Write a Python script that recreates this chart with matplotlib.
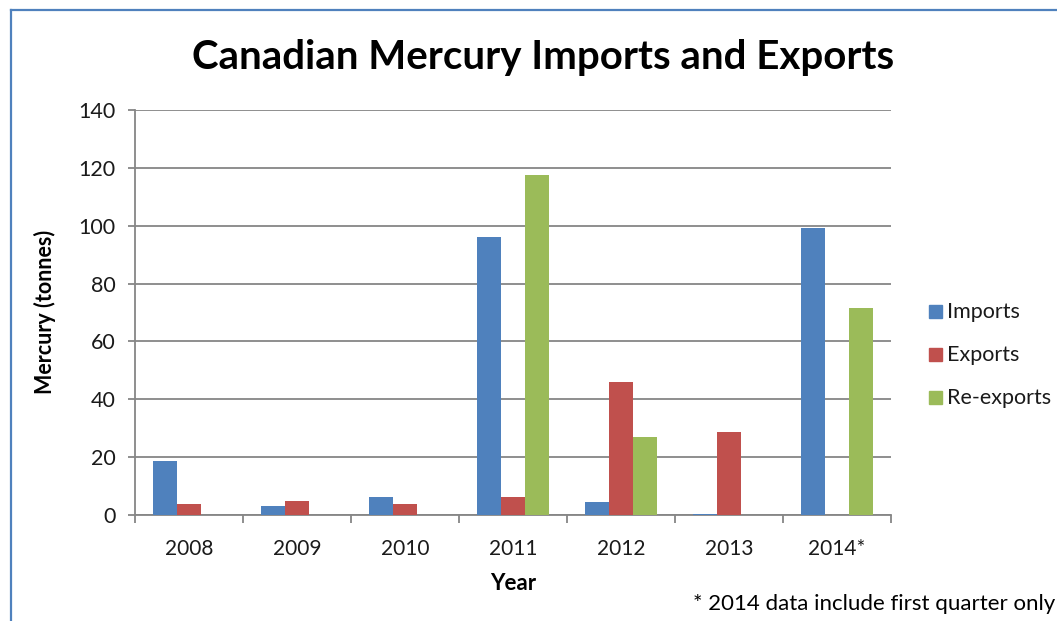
import matplotlib
matplotlib.use("Agg")
import matplotlib.pyplot as plt
from matplotlib.patches import Rectangle
import numpy as np

years = ["2008", "2009", "2010", "2011", "2012", "2013", "2014*"]
imports = [18.7, 3.1, 6.2, 96.1, 4.5, 0.4, 99.2]
exports = [3.8, 4.8, 3.8, 6.2, 46.0, 28.7, 0.0]
reexports = [0.0, 0.0, 0.0, 117.5, 27.0, 0.0, 71.6]
series_names = ["Imports", "Exports", "Re-exports"]
colors = ["#4F81BD", "#C0504D", "#9BBB59"]

plt.rcParams['font.family'] = ['Lato', 'DejaVu Sans']

W, H = 1057, 621
fig = plt.figure(figsize=(W / 100, H / 100), dpi=100)
fig.patch.set_facecolor("white")

# outer chart border (blue, top & left visible)
fig.add_artist(plt.Line2D([11 / W, 11 / W], [0, 1 - 10 / H], color="#4F81BD", lw=1.6,
                          transform=fig.transFigure))
fig.add_artist(plt.Line2D([11 / W, 1], [1 - 10 / H, 1 - 10 / H], color="#4F81BD", lw=1.6,
                          transform=fig.transFigure))

ax_left, ax_right, ax_top, ax_bottom = 135, 891, 110, 515
ax = fig.add_axes([ax_left / W, 1 - ax_bottom / H, (ax_right - ax_left) / W, (ax_bottom - ax_top) / H])

x = np.arange(len(years))
bw = 24 / 108
for i, (vals, c) in enumerate(zip([imports, exports, reexports], colors)):
    ax.bar(x + (i - 1) * bw, vals, width=bw, color=c, label=series_names[i], zorder=3)

ax.set_xlim(-0.5, len(years) - 0.5)
ax.set_ylim(0, 140)
ax.set_yticks(np.arange(0, 141, 20))
ax.yaxis.grid(True, color="#868686", lw=1.3, zorder=0)
ax.set_axisbelow(True)

ax.set_xticks(x)
ax.set_xticklabels(years)
ax.set_xticks(np.arange(-0.5, len(years)), minor=True)
ax.tick_params(axis="x", which="major", length=0, pad=17, labelsize=15, labelcolor="#1a1a1a")
ax.tick_params(axis="x", which="minor", length=6, width=1.3, color="#868686", direction="out")
ax.tick_params(axis="y", length=5, width=1.3, color="#868686", direction="out", pad=9,
               labelsize=15.5, labelcolor="#1a1a1a")

for s in ["top", "right"]:
    ax.spines[s].set_visible(False)
for s in ["left", "bottom"]:
    ax.spines[s].set_color("#868686")
    ax.spines[s].set_linewidth(1.3)

fig.text(543 / W, 1 - 57 / H, "Canadian Mercury Imports and Exports", ha="center", va="center",
         fontsize=29, fontweight="bold", color="black")
fig.text(45 / W, 1 - 312 / H, "Mercury (tonnes)", rotation=90, ha="center", va="center",
         fontsize=15.5, fontweight="bold", color="black")
fig.text(513 / W, 1 - 584 / H, "Year", ha="center", va="center",
         fontsize=16, fontweight="bold", color="black")
fig.text(1055 / W, 1 - 604 / H, "* 2014 data include first quarter only", ha="right", va="center",
         fontsize=16, color="black")

# legend
leg_y = [312, 355, 398]
for name, c, yy in zip(series_names, colors, leg_y):
    fig.add_artist(Rectangle((929 / W, 1 - (yy + 6) / H), 13 / W, 13 / H, color=c,
                             transform=fig.transFigure))
    fig.text(947 / W, 1 - yy / H, name, ha="left", va="center", fontsize=15.5, color="#1a1a1a")

fig.savefig("out.png", dpi=100, facecolor="white")
